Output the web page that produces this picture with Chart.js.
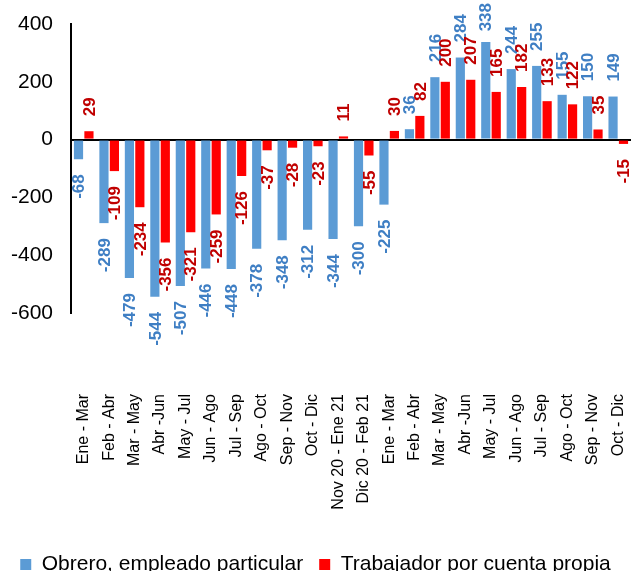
<!DOCTYPE html>
<html>
<head>
<meta charset="utf-8">
<script src="https://cdn.jsdelivr.net/npm/chart.js@4/dist/chart.umd.min.js"></script>
<style>
  html, body { margin: 0; padding: 0; background: #fff; overflow: hidden; }
  #wrap { position: relative; width: 631px; height: 585px; }
</style>
</head>
<body>
<div id="wrap"><canvas id="myChart"></canvas></div>
<script>
const categories = ['Ene - Mar', 'Feb - Abr', 'Mar - May', 'Abr -Jun', 'May - Jul', 'Jun - Ago', 'Jul - Sep',
    'Ago - Oct', 'Sep - Nov', 'Oct - Dic', 'Nov 20 - Ene 21', 'Dic 20 - Feb 21', 'Ene - Mar', 'Feb - Abr',
    'Mar - May', 'Abr -Jun', 'May - Jul', 'Jun - Ago', 'Jul - Sep', 'Ago - Oct', 'Sep - Nov', 'Oct - Dic'];
const obrero = [-68, -289, -479, -544, -507, -446, -448, -378, -348, -312, -344, -300, -225,
    36, 216, 284, 338, 244, 255, 155, 150, 149];
const cuentaPropia = [29, -109, -234, -356, -321, -259, -126, -37, -28, -23, 11, -55, 30,
    82, 200, 207, 165, 182, 133, 122, 35, -15];
const yTicks = [-600, -400, -200, 0, 200, 400];

const labelColors = ['#3f7fc4', '#c00000'];

// rotated value labels at the end of each bar
const barLabels = {
    id: 'barLabels',
    afterDatasetsDraw(chart) {
        const ctx = chart.ctx;
        ctx.save();
        ctx.font = 'bold 17px "Liberation Sans", Arial, sans-serif';
        ctx.textBaseline = 'middle';
        chart.data.datasets.forEach((ds, i) => {
            const meta = chart.getDatasetMeta(i);
            ctx.fillStyle = labelColors[i];
            meta.data.forEach((bar, j) => {
                const v = ds.data[j];
                const txt = String(v);
                const w = ctx.measureText(txt).width;
                let y;
                ctx.save();
                if (v >= 0) {
                    y = bar.y - 15;
                    if (y - w < 3) y = w + 3;
                    ctx.translate(bar.x, y);
                    ctx.rotate(-Math.PI / 2);
                    ctx.textAlign = 'left';
                } else {
                    y = bar.y + 15;
                    ctx.translate(bar.x, y);
                    ctx.rotate(-Math.PI / 2);
                    ctx.textAlign = 'right';
                }
                ctx.fillText(txt, 0, 1);
                ctx.restore();
            });
        });
        ctx.restore();
    }
};

const data = {
    labels: categories,
    datasets: [{
        label: 'Obrero, empleado particular',
        backgroundColor: '#5b9bd5',
        data: obrero,
    }, {
        label: 'Trabajador por cuenta propia',
        backgroundColor: '#ff0000',
        data: cuentaPropia,
    }],
};

const config = {
    type: 'bar',
    data: data,
    options: {
        responsive: true,
        maintainAspectRatio: false,
        animation: false,
        layout: {
            padding: { top: 24, right: 0, left: 0, bottom: 0 }
        },
        datasets: {
            bar: { categoryPercentage: 0.82, barPercentage: 0.88 }
        },
        plugins: {
            legend: {
                position: 'bottom',
                labels: {
                    boxWidth: 11,
                    boxHeight: 11,
                    padding: 16,
                    color: '#000',
                    font: { size: 21, family: '"Liberation Sans", Arial, sans-serif' }
                }
            },
            tooltip: { enabled: false }
        },
        scales: {
            y: {
                min: -600,
                max: 400,
                afterBuildTicks: s => { s.ticks = yTicks.map(v => ({ value: v })); },
                afterFit: s => { s.width = 71; s.paddingTop = 0; s.paddingBottom = 0; },
                border: { display: true, color: '#000', width: 2 },
                grid: {
                    drawTicks: false,
                    lineWidth: 2,
                    color: c => (c.tick && c.tick.value === 0) ? '#000' : 'rgba(0,0,0,0)'
                },
                ticks: {
                    padding: 18,
                    color: '#000',
                    font: { size: 21, family: '"Liberation Sans", Arial, sans-serif' }
                }
            },
            x: {
                afterFit: s => { s.height = 225; s.paddingLeft = 0; s.paddingRight = 0; },
                border: { display: false },
                grid: { display: false },
                ticks: {
                    autoSkip: false,
                    maxRotation: 90,
                    minRotation: 90,
                    padding: 73,
                    color: '#000',
                    font: { size: 16, family: '"Liberation Sans", Arial, sans-serif' }
                }
            }
        }
    },
    plugins: [barLabels]
};

const ctx = document.getElementById('myChart').getContext('2d');
const myChart = new Chart(ctx, config);
</script>
</body>
</html>
